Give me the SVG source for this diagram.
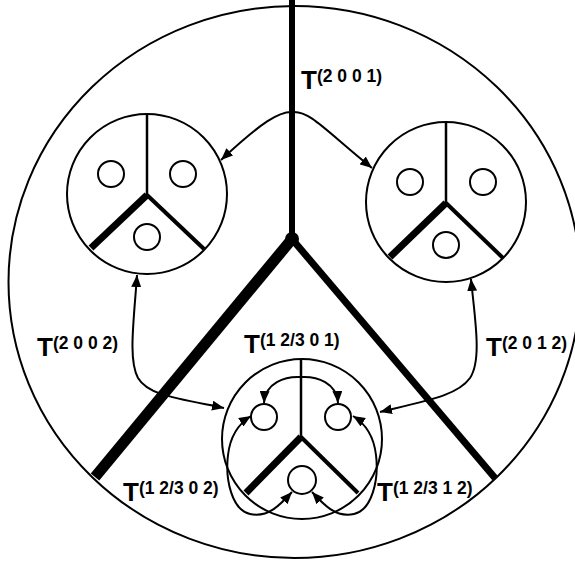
<svg xmlns="http://www.w3.org/2000/svg" width="575" height="563" viewBox="0 0 575 563">
<style>
.thin{fill:none;stroke:#000;stroke-width:2}
.div{fill:none;stroke:#000;stroke-width:2.5}
.thick{stroke:#000;stroke-width:7;fill:none}
.med{stroke:#000;stroke-width:4;fill:none}
.dot{fill:#fff;stroke:#000;stroke-width:2}
.con{fill:none;stroke:#000;stroke-width:2;marker-start:url(#ah);marker-end:url(#ah)}
.lbl{font-family:"Liberation Sans",Arial,sans-serif;font-weight:bold;font-size:26px;fill:#000}
.sup{font-size:17.5px}
</style>
<defs>
<marker id="ah" markerUnits="userSpaceOnUse" markerWidth="13" markerHeight="10" refX="12" refY="5" orient="auto-start-reverse">
<path d="M0,0 L12,5 L0,10 z" fill="#000"/>
</marker>
</defs>
<rect width="575" height="563" fill="#fff"/>
<g id="outer">
<ellipse cx="294.5" cy="282" rx="286" ry="276" class="thin"/>
<line x1="292" y1="0" x2="292" y2="239" stroke="#000" stroke-width="6"/>
<line x1="292" y1="239" x2="95" y2="477" stroke="#000" stroke-width="11"/>
<line x1="292" y1="239" x2="495" y2="478" stroke="#000" stroke-width="7"/>
<circle cx="292" cy="239" r="7" fill="#000"/>
</g>
<g id="node-left">
<circle cx="147" cy="194" r="80" class="thin"/>
<line x1="147" y1="114" x2="147" y2="195" class="div"/>
<line x1="147" y1="195" x2="91" y2="248" class="thick"/>
<line x1="147" y1="195" x2="204" y2="249" class="med"/>
<circle cx="111" cy="174" r="13" class="dot"/>
<circle cx="183" cy="174" r="13" class="dot"/>
<circle cx="147" cy="237" r="13" class="dot"/>
</g>
<g id="node-right">
<circle cx="446" cy="202" r="80" class="thin"/>
<line x1="446" y1="122" x2="446" y2="203" class="div"/>
<line x1="446" y1="203" x2="390" y2="257" class="thick"/>
<line x1="446" y1="203" x2="503" y2="258" class="med"/>
<circle cx="410" cy="182" r="13" class="dot"/>
<circle cx="483" cy="182" r="13" class="dot"/>
<circle cx="446" cy="245" r="13" class="dot"/>
</g>
<g id="node-bottom">
<circle cx="302" cy="439" r="80" class="thin"/>
<line x1="301" y1="359" x2="301" y2="437" class="div"/>
<line x1="301" y1="437" x2="246" y2="493" class="thick"/>
<line x1="301" y1="437" x2="358" y2="493" class="med"/>
<circle cx="264" cy="417" r="13" class="dot"/>
<circle cx="338" cy="417" r="13" class="dot"/>
<circle cx="302" cy="480" r="14" class="dot"/>
</g>
<g id="connectors">
<path class="con" d="M221,160 C262,122 279,111 293,112 C310,111 325,130 372,168"/>
<path class="con" d="M137,275 C134,320 128,360 138,378 C148,395 175,398 224,408"/>
<path class="con" d="M471,279 C475,320 482,360 470,378 C458,395 430,400 380,412"/>
<path class="con" d="M264,403 C265,383 285,376 301,377 C317,376 337,383 338,403"/>
<path class="con" d="M292,492 C280,505 268,518 250,514 C232,510 225,480 228,455 C230,438 238,424 251,416"/>
<path class="con" d="M312,492 C324,505 336,518 354,514 C372,510 379,480 376,455 C374,438 366,424 353,416"/>
</g>
<g id="labels">
<text class="lbl" x="301" y="89">T<tspan class="sup" dy="-7">(2 0 0 1)</tspan></text>
<text class="lbl" x="37" y="356">T<tspan class="sup" dy="-7">(2 0 0 2)</tspan></text>
<text class="lbl" x="486" y="356">T<tspan class="sup" dy="-7">(2 0 1 2)</tspan></text>
<text class="lbl" x="244" y="353">T<tspan class="sup" dy="-7">(1 2/3 0 1)</tspan></text>
<text class="lbl" x="123" y="501">T<tspan class="sup" dy="-7">(1 2/3 0 2)</tspan></text>
<text class="lbl" x="377" y="501">T<tspan class="sup" dy="-7">(1 2/3 1 2)</tspan></text>
</g>
</svg>
